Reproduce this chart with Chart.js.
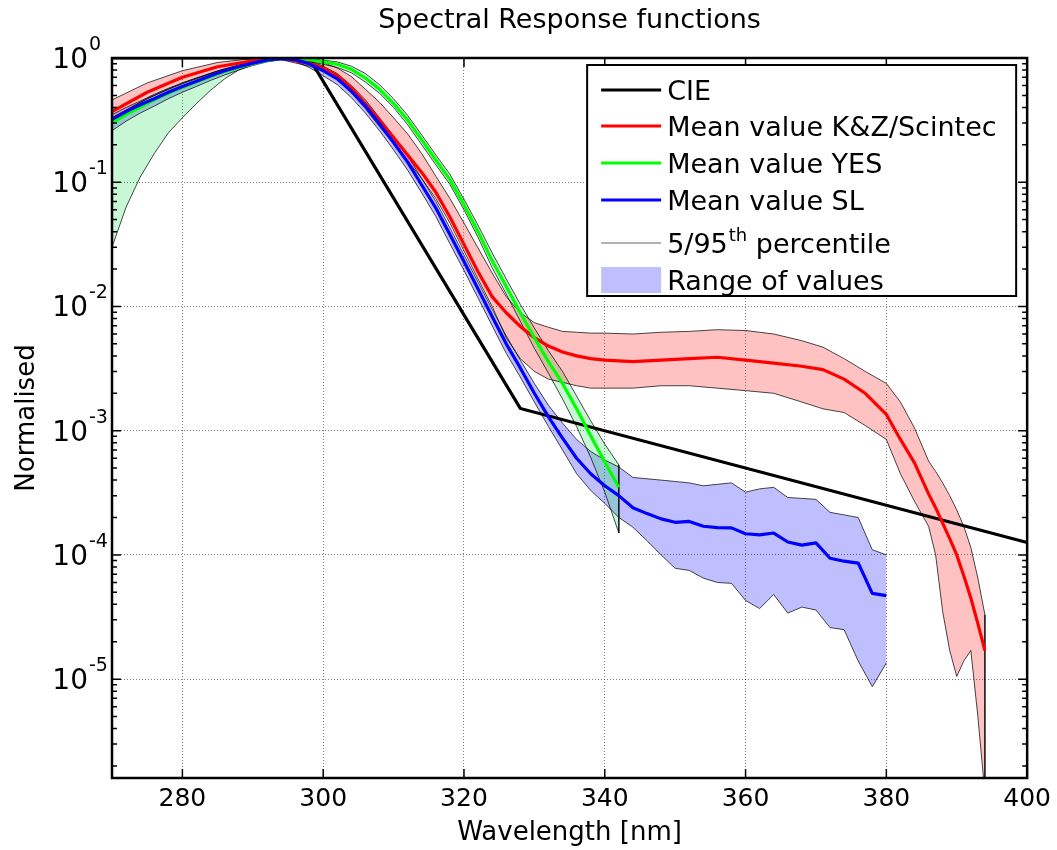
<!DOCTYPE html>
<html>
<head>
<meta charset="utf-8">
<script src="https://cdn.jsdelivr.net/npm/chart.js@4.4.1/dist/chart.umd.min.js"></script>
<style>
  html, body { margin: 0; padding: 0; background: #ffffff; }
  #wrap { width: 1057px; height: 850px; }
</style>
</head>
<body>
<div id="wrap"><canvas id="c" width="1057" height="850"></canvas></div>
<script>
// ---------------- data ----------------
const titleText = 'Spectral Response functions';
const xTitle = 'Wavelength [nm]';
const yTitle = 'Normalised';
const xTicks = [280, 300, 320, 340, 360, 380, 400];
const yTicks = [1e-5, 1e-4, 1e-3, 1e-2, 1e-1, 1];
const yExp = ['-5', '-4', '-3', '-2', '-1', '0'];
const legendLabels = ['CIE', 'Mean value K&Z/Scintec', 'Mean value YES', 'Mean value SL', '5/95', 'Range of values'];

// CIE erythema action spectrum
const cieWl  = [270, 298, 328, 400];
const cieVal = [1, 1, 0.00151, 0.000126];

// K&Z / Scintec
const kzWl = [270, 275, 280, 285, 290, 294, 298,
  300, 302, 304, 306, 308, 310, 312, 314, 316, 318, 320, 322, 324, 326, 328, 330, 332, 334, 336, 338, 340,
  344, 348, 352, 356, 360, 364, 368,
  371, 374, 377, 380,
  382, 384, 386, 387, 388, 389, 390, 391, 392, 393, 394];
const kzMean = [0.37, 0.53, 0.70, 0.85, 0.95, 1.0, 0.91,
  0.83, 0.72, 0.575, 0.427, 0.316, 0.229, 0.166, 0.12, 0.083, 0.0525, 0.0316, 0.019, 0.012, 0.0089, 0.0069, 0.0056, 0.0048, 0.0043, 0.0040, 0.0038, 0.0037,
  0.0036, 0.0037, 0.0038, 0.0039, 0.0037, 0.0035, 0.0033,
  0.0031, 0.0026, 0.0020, 0.00135,
  0.00085, 0.00055, 0.00031, 0.00024, 0.00018, 0.000135, 0.0001, 0.000068, 0.000045, 0.000028, 0.000017];
const kzHigh = [0.46, 0.63, 0.79, 0.92, 0.99, 1.0, 0.96,
  0.92, 0.83, 0.71, 0.56, 0.44, 0.33, 0.245, 0.17, 0.112, 0.074, 0.047, 0.0295, 0.0186, 0.012, 0.0089, 0.0074, 0.0068, 0.0063, 0.0062, 0.0061, 0.0061,
  0.0060, 0.0062, 0.0063, 0.0065, 0.0064, 0.0060, 0.0053,
  0.0047, 0.0038, 0.0030, 0.0024,
  0.0017, 0.00105, 0.00057, 0.00047, 0.00038, 0.0003, 0.00023, 0.00017, 0.000115, 0.000065, 0.000033];
const kzLow = [0.33, 0.47, 0.63, 0.79, 0.91, 0.97, 0.86,
  0.79, 0.68, 0.525, 0.39, 0.28, 0.204, 0.148, 0.107, 0.074, 0.047, 0.028, 0.0166, 0.010, 0.0056, 0.0038, 0.0030, 0.0026, 0.00245, 0.0023, 0.0022, 0.0022,
  0.0022, 0.0023, 0.0023, 0.0022, 0.0021, 0.0020, 0.0017,
  0.0015, 0.0014, 0.0011, 0.00085,
  0.00045, 0.00027, 0.00017, 0.0001, 0.000035, 0.000017, 0.0000105, 0.000014, 0.000017, 0.000005, 0.0000012];

// YES
const yesWl = [270, 272, 274, 276, 278, 280, 282, 284, 286, 288, 290, 292, 294, 296, 298,
  300, 302, 304, 306, 308, 310, 312, 314, 316, 318, 320, 322, 324, 326, 328, 330, 332, 334, 336, 338, 340, 342];
const yesMean = [0.30, 0.35, 0.40, 0.46, 0.52, 0.58, 0.64, 0.71, 0.78, 0.84, 0.90, 0.95, 0.99, 1.0, 0.97,
  0.93, 0.89, 0.81, 0.69, 0.56, 0.43, 0.316, 0.219, 0.151, 0.105, 0.066, 0.04, 0.0234, 0.0145, 0.0089, 0.0056, 0.0036, 0.0024, 0.0015, 0.00091, 0.00056, 0.00035];
const yesHigh = [0.33, 0.38, 0.44, 0.50, 0.56, 0.62, 0.68, 0.75, 0.81, 0.87, 0.92, 0.96, 1.0, 1.0, 0.99,
  0.96, 0.93, 0.86, 0.75, 0.61, 0.47, 0.345, 0.24, 0.166, 0.116, 0.073, 0.045, 0.027, 0.0167, 0.0104, 0.0067, 0.0044, 0.003, 0.0019, 0.0012, 0.00078, 0.00053];
const yesLow = [0.03, 0.063, 0.11, 0.17, 0.25, 0.33, 0.43, 0.55, 0.68, 0.80, 0.89, 0.95, 0.98, 0.98, 0.94,
  0.89, 0.84, 0.76, 0.64, 0.52, 0.40, 0.29, 0.20, 0.138, 0.096, 0.060, 0.036, 0.0205, 0.0126, 0.0076, 0.0046, 0.0029, 0.0018, 0.00108, 0.00061, 0.00032, 0.00015];

// SL
const slWl = [270, 272, 274, 276, 278, 280, 282, 284, 286, 288, 290, 292, 294, 296, 298,
  300, 302, 304, 306, 308, 310, 312, 314, 316, 318, 320, 322, 324, 326, 328, 330, 332, 334, 336, 338, 340, 342,
  344, 346, 348, 350, 352, 354, 356, 358, 360, 362, 364, 366, 368, 370, 372, 374, 376, 378, 380];
const slMean = [0.32, 0.37, 0.42, 0.47, 0.53, 0.59, 0.65, 0.72, 0.79, 0.85, 0.91, 0.96, 0.99, 0.97, 0.90,
  0.79, 0.68, 0.54, 0.41, 0.295, 0.209, 0.145, 0.095, 0.062, 0.038, 0.023, 0.0138, 0.0083, 0.005, 0.0032, 0.002, 0.00129, 0.00087, 0.0006, 0.00045, 0.00036, 0.0003,
  0.00024, 0.000215, 0.000195, 0.000183, 0.000186, 0.00017, 0.000166, 0.000165, 0.000148, 0.000145, 0.00015, 0.000127, 0.00012, 0.000125, 0.000094, 0.000089, 0.000086, 0.000049, 0.000047];
const slHigh = [0.35, 0.40, 0.45, 0.51, 0.57, 0.63, 0.69, 0.75, 0.82, 0.88, 0.94, 0.98, 1.0, 1.0, 0.95,
  0.86, 0.75, 0.6, 0.46, 0.33, 0.235, 0.163, 0.107, 0.07, 0.043, 0.026, 0.0157, 0.0095, 0.0058, 0.0037, 0.0024, 0.0016, 0.00115, 0.00085, 0.00068, 0.00058, 0.00051,
  0.00042, 0.00041, 0.0004, 0.00039, 0.00038, 0.00036, 0.00037, 0.00038, 0.00032, 0.00034, 0.00035, 0.00029, 0.000285, 0.00028, 0.00022, 0.00021, 0.0002, 0.00011, 0.0001];
const slLow = [0.26, 0.31, 0.36, 0.41, 0.47, 0.53, 0.59, 0.66, 0.73, 0.80, 0.87, 0.93, 0.97, 0.94, 0.84,
  0.72, 0.61, 0.48, 0.36, 0.26, 0.182, 0.125, 0.082, 0.053, 0.032, 0.0195, 0.0117, 0.007, 0.0042, 0.0027, 0.0017, 0.00108, 0.0007, 0.00045, 0.00033, 0.00026, 0.0002,
  0.000167, 0.00013, 0.0001, 0.000078, 0.000075, 0.000065, 0.00006, 0.000059, 0.000043, 0.000037, 0.000048, 0.000034, 0.000038, 0.000036, 0.000026, 0.000025, 0.000014, 0.0000087, 0.0000135];

// ---------------- build chart ----------------
const FONT = '"DejaVu Sans", "Liberation Sans", Arial, sans-serif';
Chart.defaults.font.family = FONT;
Chart.defaults.color = '#000';

const pts = (xs, ys) => xs.map((x, i) => ({ x: x, y: ys[i] }));
const COL = { kz: '#ff0000', yes: '#00ff00', sl: '#0000ff' };
const FILL = { kz: 'rgba(255,0,0,0.24)', yes: 'rgba(0,220,60,0.22)', sl: 'rgba(0,0,255,0.25)' };
const EDGE = 'rgba(0,0,0,0.8)';

const datasets = [];
function addBand(key, wl, hi, lo, withEdge) {
  const hiIdx = datasets.length;
  datasets.push({ label: key + ' high', data: pts(wl, hi), borderColor: EDGE, borderWidth: 0.9,
    backgroundColor: FILL[key], fill: hiIdx + 1, pointRadius: 0, tension: 0, order: 6 });
  datasets.push({ label: key + ' low', data: pts(wl, lo), borderColor: EDGE, borderWidth: 0.9,
    fill: false, pointRadius: 0, tension: 0, order: 6 });
  if (withEdge) {
    const n = wl.length - 1;
    datasets.push({ label: key + ' edge', data: [{ x: wl[n], y: hi[n] }, { x: wl[n], y: lo[n] }],
      borderColor: EDGE, borderWidth: 0.9, fill: false, pointRadius: 0, order: 6 });
  }
}
addBand('kz', kzWl, kzHigh, kzLow, true);
addBand('yes', yesWl, yesHigh, yesLow, true);
addBand('sl', slWl, slHigh, slLow, false);

datasets.push({ label: 'CIE', data: pts(cieWl, cieVal), borderColor: '#000', borderWidth: 3.2,
  fill: false, pointRadius: 0, order: 4, borderJoinStyle: 'miter' });
datasets.push({ label: 'K&Z', data: pts(kzWl, kzMean), borderColor: COL.kz, borderWidth: 3.2,
  fill: false, pointRadius: 0, order: 3, borderJoinStyle: 'round' });
datasets.push({ label: 'YES', data: pts(yesWl, yesMean), borderColor: COL.yes, borderWidth: 3.2,
  fill: false, pointRadius: 0, order: 2, borderJoinStyle: 'round' });
datasets.push({ label: 'SL', data: pts(slWl, slMean), borderColor: COL.sl, borderWidth: 3.2,
  fill: false, pointRadius: 0, order: 1, borderJoinStyle: 'round' });

const deco = {
  id: 'deco',
  afterDraw(chart) {
    const { ctx, chartArea: ca, scales: { x, y } } = chart;
    ctx.save();
    // inward ticks
    ctx.strokeStyle = '#000';
    ctx.lineWidth = 1.5;
    ctx.beginPath();
    xTicks.forEach(v => {
      const px = x.getPixelForValue(v);
      ctx.moveTo(px, ca.bottom); ctx.lineTo(px, ca.bottom - 9);
      ctx.moveTo(px, ca.top); ctx.lineTo(px, ca.top + 9);
    });
    for (let e = -6; e <= 0; e++) {
      for (let k = 1; k <= 9; k++) {
        const v = k * Math.pow(10, e);
        if (v < y.min * 0.999 || v > y.max * 1.001) continue;
        const py = y.getPixelForValue(v);
        const len = k === 1 ? 9 : 5;
        ctx.moveTo(ca.left, py); ctx.lineTo(ca.left + len, py);
        ctx.moveTo(ca.right, py); ctx.lineTo(ca.right - len, py);
      }
    }
    ctx.stroke();
    // frame
    ctx.lineWidth = 2.5;
    ctx.strokeRect(ca.left, ca.top, ca.right - ca.left, ca.bottom - ca.top);

    // y tick labels 10^n
    ctx.fillStyle = '#000';
    ctx.textBaseline = 'alphabetic';
    yTicks.forEach((v, i) => {
      const py = y.getPixelForValue(v);
      ctx.font = '28px ' + FONT;
      ctx.textAlign = 'right';
      ctx.fillText('10', ca.left - 24, py + 10);
      ctx.font = '19px ' + FONT;
      ctx.textAlign = 'left';
      ctx.fillText(yExp[i], ca.left - 23, py - 8);
    });

    // legend
    const lw = 429, lh = 231;
    const lx = ca.right - 11 - lw, ly = ca.top + 7;
    ctx.fillStyle = '#fff';
    ctx.fillRect(lx, ly, lw, lh);
    ctx.lineWidth = 2;
    ctx.strokeStyle = '#000';
    ctx.strokeRect(lx, ly, lw, lh);
    const rowY = [25, 61, 98, 135, 178, 215];
    const lineCols = ['#000', COL.kz, COL.yes, COL.sl];
    const sx0 = lx + 14, sx1 = lx + 74, tx = lx + 80;
    ctx.lineCap = 'butt';
    for (let i = 0; i < 4; i++) {
      ctx.strokeStyle = lineCols[i];
      ctx.lineWidth = 3.2;
      ctx.beginPath(); ctx.moveTo(sx0, ly + rowY[i]); ctx.lineTo(sx1, ly + rowY[i]); ctx.stroke();
    }
    ctx.strokeStyle = 'rgba(0,0,0,0.6)';
    ctx.lineWidth = 1.2;
    ctx.beginPath(); ctx.moveTo(sx0, ly + rowY[4]); ctx.lineTo(sx1, ly + rowY[4]); ctx.stroke();
    ctx.fillStyle = FILL.sl;
    ctx.fillRect(sx0, ly + rowY[5] - 13, sx1 - sx0, 26);

    ctx.fillStyle = '#000';
    ctx.textAlign = 'left';
    ctx.font = '27px ' + FONT;
    [0, 1, 2, 3, 5].forEach(i => ctx.fillText(legendLabels[i], tx, ly + rowY[i] + 10));
    // 5/95th percentile with superscript
    const by = ly + rowY[4] + 10;
    ctx.font = '27px ' + FONT;
    ctx.fillText(legendLabels[4], tx, by);
    let w = ctx.measureText(legendLabels[4]).width;
    ctx.font = '18px ' + FONT;
    ctx.fillText('th', tx + w + 1, by - 12);
    w += ctx.measureText('th').width + 1;
    ctx.font = '27px ' + FONT;
    ctx.fillText(' percentile', tx + w, by);
    ctx.restore();
  }
};

new Chart(document.getElementById('c'), {
  type: 'line',
  data: { datasets: datasets },
  options: {
    responsive: false,
    animation: false,
    devicePixelRatio: 1,
    events: [],
    layout: { padding: { left: 0, right: 29, top: 0, bottom: 0 } },
    plugins: {
      legend: { display: false },
      tooltip: { enabled: false },
      filler: { drawTime: 'beforeDatasetsDraw', propagate: false },
      title: {
        display: true, text: titleText, fullSize: false, color: '#000',
        font: { family: FONT, size: 27, weight: 'normal', lineHeight: 1.2 },
        padding: { top: 5, bottom: 20.6 }
      }
    },
    scales: {
      x: {
        type: 'linear', min: 270, max: 400, bounds: 'data',
        ticks: { stepSize: 20, padding: 6, maxRotation: 0, autoSkip: false, color: '#000',
          font: { family: FONT, size: 25 } },
        afterBuildTicks: s => { s.ticks = xTicks.map(v => ({ value: v })); },
        afterFit: s => { s.height = 72; },
        grid: { color: 'rgba(0,0,0,0.5)', lineWidth: 1, drawTicks: false },
        border: { display: false, dash: [1, 2] },
        title: { display: true, text: xTitle, color: '#000',
          font: { family: FONT, size: 26, lineHeight: 1.2 }, padding: { top: 0, bottom: 1 } }
      },
      y: {
        type: 'logarithmic', min: 1.6e-6, max: 1, bounds: 'data',
        ticks: { display: false },
        afterBuildTicks: s => { s.ticks = yTicks.map(v => ({ value: v, major: true })); },
        afterFit: s => { s.width = 112; },
        grid: { color: 'rgba(0,0,0,0.5)', lineWidth: 1, drawTicks: false },
        border: { display: false, dash: [1, 2] },
        title: { display: true, text: yTitle, color: '#000',
          font: { family: FONT, size: 26, lineHeight: 1.2 }, padding: { top: 12, bottom: 0 } }
      }
    }
  },
  plugins: [deco]
});
</script>
</body>
</html>
